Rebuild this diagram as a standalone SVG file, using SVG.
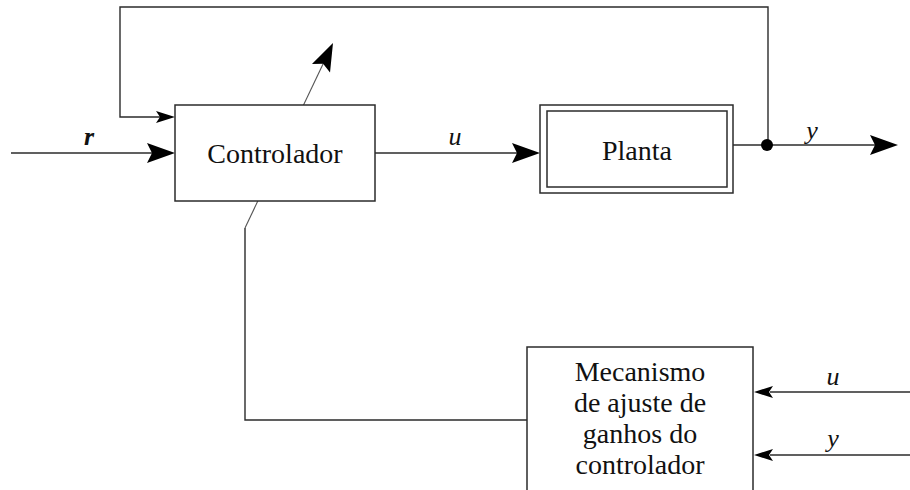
<svg xmlns="http://www.w3.org/2000/svg" width="910" height="490" viewBox="0 0 910 490">
  <style>
    .wire { fill: none; stroke: #2b2b2b; stroke-width: 1.4; }
    .thin { fill: none; stroke: #555; stroke-width: 1.1; }
    .box { fill: #fff; stroke: #2b2b2b; stroke-width: 1.5; }
    .txt { font-family: "Liberation Serif", "Times New Roman", serif; font-size: 28px; fill: #111; text-anchor: middle; }
    .sig { font-family: "Liberation Serif", "Times New Roman", serif; font-size: 26px; font-style: italic; fill: #111; text-anchor: middle; }
    .head { fill: #000; }
  </style>
  <defs>
    <!-- swept arrowheads, tip at origin pointing along +x -->
    <path id="bigHead" d="M0,0 L-28,-10 L-23,0 L-28,10 Z"/>
    <path id="smallHead" d="M0,0 L-19,-6 L-15,0 L-19,6 Z"/>
  </defs>

  <!-- adaptation path: from gain-tuning block up through the controller (drawn first so boxes cover it) -->
  <g id="connectors">
    <polyline class="wire" points="527,420 245,420 245,228"/>
    <line class="thin" x1="245" y1="228" x2="324" y2="62"/>
    <use href="#bigHead" class="head" transform="translate(333,43) rotate(-64.6)"/>

    <!-- reference input r -->
    <line class="wire" x1="11" y1="153" x2="152" y2="153"/>
    <use href="#bigHead" class="head" transform="translate(175,153)"/>

    <!-- control signal u -->
    <line class="wire" x1="375" y1="153" x2="517" y2="153"/>
    <use href="#bigHead" class="head" transform="translate(540,153)"/>

    <!-- output y -->
    <line class="wire" x1="733" y1="145" x2="875" y2="145"/>
    <use href="#bigHead" class="head" transform="translate(898,145)"/>

    <!-- output feedback to controller -->
    <polyline class="wire" points="768,145 768,7 120,7 120,117 160,117"/>
    <use href="#smallHead" class="head" transform="translate(175,117)"/>
    <circle cx="767" cy="145" r="6" fill="#000"/>

    <!-- u and y into gain-tuning block -->
    <line class="wire" x1="910" y1="392" x2="770" y2="392"/>
    <use href="#smallHead" class="head" transform="translate(754,392) rotate(180)"/>
    <line class="wire" x1="910" y1="455" x2="770" y2="455"/>
    <use href="#smallHead" class="head" transform="translate(754,455) rotate(180)"/>

    <text class="sig" x="89" y="145" font-weight="bold">r</text>
    <text class="sig" x="455" y="145">u</text>
    <text class="sig" x="812" y="139">y</text>
    <text class="sig" x="833" y="385">u</text>
    <text class="sig" x="833" y="447">y</text>
  </g>

  <g id="controlador">
    <rect class="box" x="175" y="105" width="200" height="96"/>
    <text class="txt" x="275" y="163">Controlador</text>
  </g>

  <g id="planta">
    <rect class="box" x="540" y="105" width="193" height="88"/>
    <rect class="box" x="547" y="111" width="180" height="76"/>
    <text class="txt" x="637" y="160">Planta</text>
  </g>

  <g id="mecanismo">
    <rect class="box" x="527" y="347" width="226" height="160"/>
    <text class="txt" x="640" y="381">Mecanismo</text>
    <text class="txt" x="640" y="412">de ajuste de</text>
    <text class="txt" x="640" y="443">ganhos do</text>
    <text class="txt" x="640" y="474">controlador</text>
  </g>
</svg>
